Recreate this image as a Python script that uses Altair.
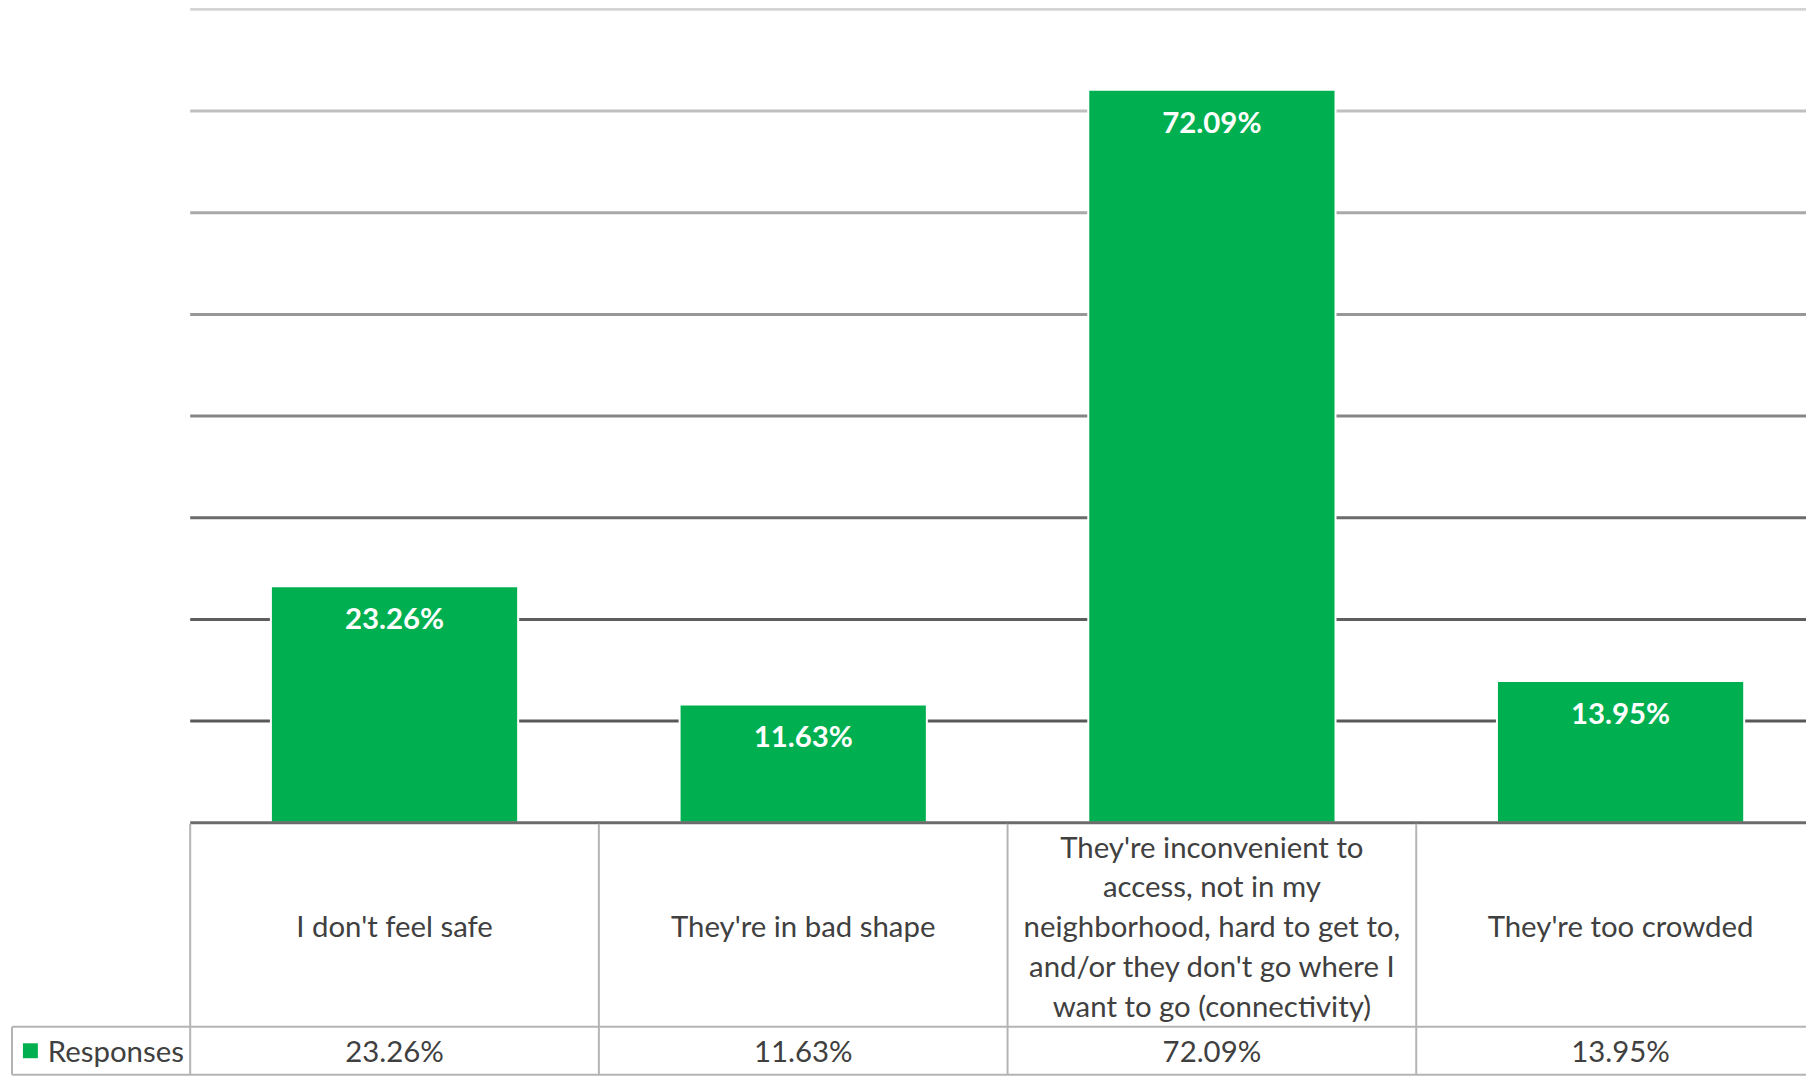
import altair as alt
import pandas as pd

# ---- data ----
categories = [
    "I don't feel safe",
    "They're in bad shape",
    "They're inconvenient to access, not in my neighborhood, hard to get to, and/or they don't go where I want to go (connectivity)",
    "They're too crowded",
]
category_labels = [
    "I don't feel safe",
    "They're in bad shape",
    "They're inconvenient to\naccess, not in my\nneighborhood, hard to get to,\nand/or they don't go where I\nwant to go (connectivity)",
    "They're too crowded",
]
responses = [0.2326, 0.1163, 0.7209, 0.1395]
series_name = ["Responses"]
grid_ticks = [0.1, 0.2, 0.3, 0.4, 0.5, 0.6, 0.7, 0.8]

# ---- styles ----
FONT = "Lato"
GREEN = "#00B050"
TEXT = "#404040"
BORDER = "#b4b4b4"
grid_colors = ["#595959", "#5e5e5e", "#6b6b6b", "#858585", "#979797", "#a9a9a9", "#bfbfbf", "#d4d4d4"]

W, H = 1806, 1072
PLOT_LEFT = 183
BASE = 816
ROW1_BOTTOM = 1021
ROW2_BOTTOM = 1069
STEP = 410.5
LH = 40

df = pd.DataFrame({"category": categories, "label": category_labels, "value": responses})
grid_df = pd.DataFrame({"v": grid_ticks})
series_df = pd.DataFrame({"series": series_name})

xscale = alt.Scale(domain=categories, range=[PLOT_LEFT, PLOT_LEFT + 4 * STEP], paddingInner=0, paddingOuter=0)
yscale = alt.Scale(domain=[0, 0.8], range=[BASE, -1], nice=False, zero=True)

X = alt.X("category:N", scale=xscale, axis=None, sort=categories)
Y = alt.Y("value:Q", scale=yscale, axis=None)

grid = alt.Chart(grid_df).mark_rule(strokeWidth=3).encode(
    y=alt.Y("v:Q", scale=yscale, axis=None),
    x=alt.value(PLOT_LEFT),
    x2=alt.value(W),
    color=alt.Color("v:O", scale=alt.Scale(domain=grid_ticks, range=grid_colors), legend=None),
)

bars = alt.Chart(df).mark_bar(color=GREEN, stroke="white", strokeWidth=2, width={"band": 0.605}).encode(x=X, y=Y)

baseline = alt.Chart(pd.DataFrame({"v": [0.0]})).mark_rule(color="#6b6b6b", strokeWidth=3).encode(
    y=alt.Y("v:Q", scale=yscale, axis=None),
    x=alt.value(PLOT_LEFT),
    x2=alt.value(W),
)

bar_labels = alt.Chart(df).mark_text(
    font=FONT, fontSize=29.5, fontWeight="bold", color="white", baseline="middle", align="center", dy=34
).encode(x=X, y=Y, text=alt.Text("value:Q", format=".2%"))

vlines = alt.Chart(df).mark_rule(color=BORDER, strokeWidth=2).encode(
    x=alt.X("category:N", scale=xscale, axis=None, sort=categories, bandPosition=0),
    y=alt.value(BASE + 1),
    y2=alt.value(ROW2_BOTTOM),
)

hline1 = alt.Chart(series_df).mark_rule(color=BORDER, strokeWidth=2).encode(
    x=alt.value(4), x2=alt.value(W), y=alt.value(ROW1_BOTTOM)
)
hline2 = alt.Chart(series_df).mark_rule(color=BORDER, strokeWidth=2).encode(
    x=alt.value(4), x2=alt.value(W), y=alt.value(ROW2_BOTTOM)
)
legend_left = alt.Chart(series_df).mark_rule(color=BORDER, strokeWidth=2).encode(
    x=alt.value(4), y=alt.value(ROW1_BOTTOM), y2=alt.value(ROW2_BOTTOM)
)

center = (BASE + ROW1_BOTTOM) / 2 + 3.5
cat_text = alt.Chart(df).transform_calculate(
    nlines="length(split(datum.label, '\\n'))",
).transform_calculate(
    ypix=f"{center} - (datum.nlines - 1) / 2 * {LH}",
).mark_text(
    font=FONT, fontSize=29.5, color=TEXT, lineBreak="\n", lineHeight=LH, baseline="middle", align="center"
).encode(x=X, y=alt.Y("ypix:Q", scale=None, axis=None), text="label:N")

val_text = alt.Chart(df).mark_text(
    font=FONT, fontSize=29.5, color=TEXT, baseline="middle", align="center"
).encode(x=X, y=alt.value((ROW1_BOTTOM + ROW2_BOTTOM) / 2 + 2), text=alt.Text("value:Q", format=".2%"))

legend_key = alt.Chart(series_df).mark_square(color=GREEN, size=225, opacity=1, filled=True).encode(
    x=alt.value(22.5), y=alt.value((ROW1_BOTTOM + ROW2_BOTTOM) / 2)
)
legend_text = alt.Chart(series_df).mark_text(
    font=FONT, fontSize=29.5, color=TEXT, baseline="middle", align="left"
).encode(x=alt.value(40), y=alt.value((ROW1_BOTTOM + ROW2_BOTTOM) / 2 + 2), text="series:N")

chart = alt.layer(
    grid, bars, baseline, bar_labels, vlines, hline1, hline2, legend_left,
    cat_text, val_text, legend_key, legend_text
).properties(
    width=W, height=H,
    autosize=alt.AutoSizeParams(type="none"),
    padding={"left": 0, "top": 0, "right": 0, "bottom": 0},
).configure_view(strokeWidth=0).resolve_scale(color="independent")

chart.save("out.html", embed_options={"renderer": "svg", "actions": False})
